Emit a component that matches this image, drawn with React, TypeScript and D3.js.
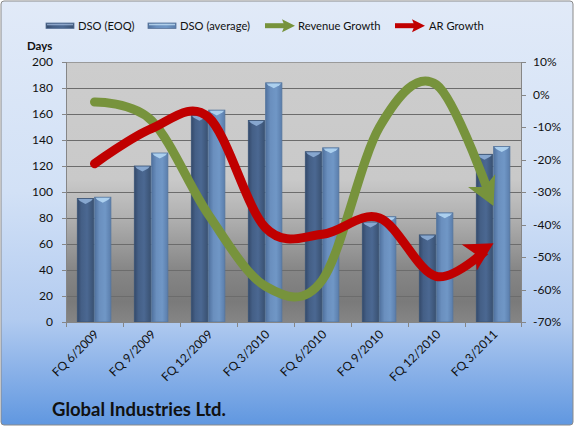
import React from "react";
import * as d3 from "d3";

const categories = ["FQ 6/2009", "FQ 9/2009", "FQ 12/2009", "FQ 3/2010", "FQ 6/2010", "FQ 9/2010", "FQ 12/2010", "FQ 3/2011"];
const dsoEoq = [95, 120, 159, 155, 131, 77, 67, 129];
const dsoAvg = [96, 130, 163, 184, 134, 81, 84, 135];
const revenueGrowth = [-2.3, -8, -37, -59, -57, -10, 3, -34.3];
const arGrowth = [-21.3, -10.5, -7, -41, -43, -38, -56, -45.8];
const leftTicks = [0, 20, 40, 60, 80, 100, 120, 140, 160, 180, 200];
const rightTicks = [-70, -60, -50, -40, -30, -20, -10, 0, 10];
const seriesNames = ["DSO (EOQ)", "DSO (average)", "Revenue Growth", "AR Growth"];

const W = 575;
const H = 427;
const L = 66, R = 522, T = 62, B = 322;
const FONT = "Lato, 'Open Sans', sans-serif";
const GREEN = "#77933C";
const RED = "#C00000";

export default function App() {
  const x = d3.scaleBand<string>().domain(categories).range([L, R]);
  const xs = d3.scaleBand<string>().domain(["eoq", "avg"]).range([11.3, 44.9]).paddingInner(0.06);
  const yL = d3.scaleLinear().domain([0, 200]).range([B, T]);
  const yR = d3.scaleLinear().domain([-70, 10]).range([B, T]);
  const cx = (i: number) => (x(categories[i]) as number) + x.bandwidth() / 2;

  const line = d3.line<number>().x((_, i) => cx(i)).y((d) => yR(d)).curve(d3.curveCardinal.tension(0));

  const arrowHead = (vals: number[]) => {
    const n = vals.length;
    const px = cx(n - 1), py = yR(vals[n - 1]);
    const qx = cx(n - 2), qy = yR(vals[n - 2]);
    const ang = (Math.atan2(py - qy, px - qx) * 180) / Math.PI;
    return { px, py, ang };
  };

  const bars = [
    { key: "eoq", vals: dsoEoq, grad: "gDark", cap: "#8eaed6", edge: "#3a5477" },
    { key: "avg", vals: dsoAvg, grad: "gLight", cap: "#b3d6f3", edge: "#56779f" },
  ];

  const lines = [
    { id: "rev", vals: revenueGrowth, color: GREEN },
    { id: "ar", vals: arGrowth, color: RED },
  ];

  const legend = [
    { type: "bar", grad: "gDark", x: 46, tx: 78, label: seriesNames[0] },
    { type: "bar", grad: "gLight", x: 148, tx: 180, label: seriesNames[1] },
    { type: "arrow", color: GREEN, x: 265, tx: 298, label: seriesNames[2] },
    { type: "arrow", color: RED, x: 395, tx: 429, label: seriesNames[3] },
  ];

  return (
    <svg width={W} height={H} style={{ position: "absolute", left: 0, top: 0, display: "block" }} fontFamily={FONT}>
      <defs>
        <linearGradient id="bg" x1="0" y1="0" x2="0" y2="1">
          <stop offset="0" stopColor="#e1eaf8" />
          <stop offset="0.45" stopColor="#d2e1f6" />
          <stop offset="0.75" stopColor="#b2cbf0" />
          <stop offset="1" stopColor="#6097e0" />
        </linearGradient>
        <linearGradient id="plotBg" x1="0" y1="0" x2="0" y2="1">
          <stop offset="0" stopColor="#cdcdcd" />
          <stop offset="0.45" stopColor="#c9c9c9" />
          <stop offset="0.6" stopColor="#b0b0b0" />
          <stop offset="0.8" stopColor="#868686" />
          <stop offset="0.92" stopColor="#7a7a7a" />
          <stop offset="1" stopColor="#858585" />
        </linearGradient>
        <linearGradient id="gDark" x1="0" y1="0" x2="1" y2="0">
          <stop offset="0" stopColor="#34496a" />
          <stop offset="0.25" stopColor="#445f86" />
          <stop offset="0.6" stopColor="#4b6892" />
          <stop offset="1" stopColor="#3a5273" />
        </linearGradient>
        <linearGradient id="gLight" x1="0" y1="0" x2="1" y2="0">
          <stop offset="0" stopColor="#50729f" />
          <stop offset="0.3" stopColor="#6a8fbe" />
          <stop offset="0.65" stopColor="#7097c6" />
          <stop offset="1" stopColor="#5a7dab" />
        </linearGradient>
        {lines.map((ln) => {
          const n = ln.vals.length;
          return (
            <mask id={`m-${ln.id}`} key={ln.id} maskUnits="userSpaceOnUse" x="0" y="0" width={W} height={H}>
              <rect x="0" y="0" width={W} height={H} fill="white" />
              <circle cx={cx(n - 1)} cy={yR(ln.vals[n - 1])} r={12} fill="black" />
            </mask>
          );
        })}
      </defs>

      {/* chart background */}
      <rect x={1} y={1} width={W - 3} height={H - 3} rx={3} fill="url(#bg)" stroke="#8a8a8a" strokeWidth={1} />

      {/* legend */}
      {legend.map((lg, i) => (
        <g key={i}>
          {lg.type === "bar" ? (
            <g>
              <rect x={lg.x} y={23} width={28} height={5.5} fill={`url(#${lg.grad})`} stroke="#5b7499" strokeWidth={0.8} />
              <rect x={lg.x + 1} y={23.8} width={26} height={1.5} fill={lg.grad === "gDark" ? "#9db7da" : "#c2def5"} opacity={0.8} />
            </g>
          ) : (
            <g>
              <line x1={lg.x} y1={25.7} x2={lg.x + 20} y2={25.7} stroke={lg.color} strokeWidth={5} />
              <path d={`M${lg.x + 30},25.7 L${lg.x + 17},19.2 L${lg.x + 19.5},25.7 L${lg.x + 17},32.2 Z`} fill={lg.color} />
            </g>
          )}
          <text x={lg.tx} y={25.7} dy="0.35em" fontSize={11.2} fill="#111">{lg.label}</text>
        </g>
      ))}

      <text x={27} y={46} dy="0.35em" fontSize={11.5} fontWeight="bold" fill="#111">Days</text>

      {/* plot area */}
      <rect x={L} y={T} width={R - L} height={B - T} fill="url(#plotBg)" />
      {leftTicks.filter((t) => t > 0).map((t) => (
        <line key={t} x1={L} x2={R} y1={Math.round(yL(t)) + 0.5} y2={Math.round(yL(t)) + 0.5} stroke={t === 200 ? "#9a9a9a" : "#6c6c6c"} strokeWidth={1} />
      ))}

      {/* bars */}
      {bars.map((s) =>
        s.vals.map((v, i) => {
          const bx = (x(categories[i]) as number) + (xs(s.key) as number);
          const bw = xs.bandwidth();
          const by = yL(v);
          const bh = B - by;
          return (
            <g key={`${s.key}-${i}`}>
              <rect x={bx} y={by} width={bw} height={bh} fill={`url(#${s.grad})`} stroke={s.edge} strokeWidth={0.8} />
              <path
                d={`M${bx + 0.8},${by + 0.6} L${bx + bw - 0.8},${by + 0.6} L${bx + bw - 2.5},${by + 2.5} L${bx + bw / 2},${by + 5.5} L${bx + 2.5},${by + 2.5} Z`}
                fill={s.cap}
                opacity={0.9}
              />
            </g>
          );
        })
      )}

      {/* axes */}
      <line x1={L + 0.5} x2={L + 0.5} y1={T} y2={B} stroke="#868686" />
      <line x1={R - 0.5} x2={R - 0.5} y1={T} y2={B} stroke="#868686" />
      <line x1={L} x2={R} y1={B + 0.5} y2={B + 0.5} stroke="#868686" />
      {categories.map((c) => (
        <line key={c} x1={Math.round(x(c) as number) + 0.5} x2={Math.round(x(c) as number) + 0.5} y1={B} y2={B + 5} stroke="#868686" />
      ))}
      <line x1={R - 0.5} x2={R - 0.5} y1={B} y2={B + 5} stroke="#868686" />
      {leftTicks.map((t) => (
        <g key={t}>
          <line x1={L - 4} x2={L} y1={Math.round(yL(t)) + 0.5} y2={Math.round(yL(t)) + 0.5} stroke="#868686" />
          <text x={53} y={yL(t)} dy="0.35em" textAnchor="end" fontSize={12} fill="#111">{t}</text>
        </g>
      ))}
      {rightTicks.map((t) => (
        <g key={t}>
          <line x1={R} x2={R + 4} y1={Math.round(yR(t)) + 0.5} y2={Math.round(yR(t)) + 0.5} stroke="#868686" />
          <text x={533} y={yR(t)} dy="0.35em" textAnchor="start" fontSize={12} fill="#111">{`${t}%`}</text>
        </g>
      ))}
      {categories.map((c, i) => (
        <text key={c} transform={`translate(${cx(i) + 2},${B + 10}) rotate(-45)`} dy="0.35em" textAnchor="end" fontSize={12} fill="#111">{c}</text>
      ))}

      {/* growth lines */}
      {lines.map((ln) => {
        const a = arrowHead(ln.vals);
        return (
          <g key={ln.id}>
            <path d={line(ln.vals) as string} fill="none" stroke={ln.color} strokeWidth={9} strokeLinecap="round" strokeLinejoin="round" mask={`url(#m-${ln.id})`} />
            <path
              transform={`translate(${a.px},${a.py}) rotate(${a.ang})`}
              d="M0,0 L-28,-15 L-21,0 L-28,15 Z"
              fill={ln.color}
            />
          </g>
        );
      })}

      <text x={52} y={410} dy="0.35em" fontSize={18.5} fontWeight="bold" fill="#111">Global Industries Ltd.</text>
    </svg>
  );
}
